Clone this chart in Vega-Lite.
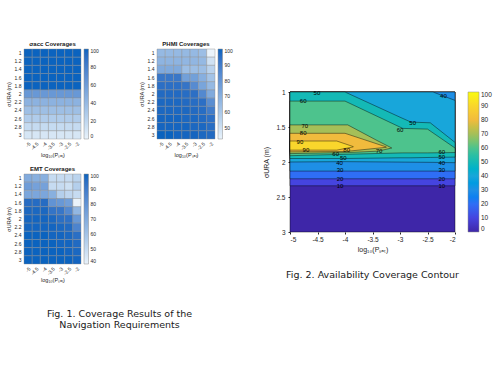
{
  "$schema": "https://vega.github.io/schema/vega-lite/v6.json",
  "background": "white",
  "padding": {"left": 6, "top": 40, "right": 2, "bottom": 2},
  "config": {
    "view": {"stroke": null},
    "font": "Liberation Sans",
    "locale": {"number": {"decimal": ".", "thousands": ",", "grouping": [3], "currency": ["$", ""], "minus": "-"}},
    "axis": {"labelColor": "#262626", "titleColor": "#262626", "domainColor": "#262626", "tickColor": "#262626", "grid": false, "titleFontWeight": "normal", "labelFont": "Liberation Sans", "titleFont": "Liberation Sans"},
    "legend": {"labelColor": "#262626", "labelFont": "Liberation Sans", "labelOverlap": false, "gradientStrokeColor": "#8c8c8c", "gradientStrokeWidth": 0.5},
    "title": {"color": "#1a1a1a"}
  },
  "resolve": {"scale": {"color": "independent"}, "legend": {"color": "independent"}},
  "spacing": 29,
  "hconcat": [
    {
      "resolve": {"scale": {"color": "independent"}, "legend": {"color": "independent"}},
      "spacing": 6,
      "title": {"text": ["Fig. 1. Coverage Results of the", "Navigation Requirements"], "orient": "bottom", "anchor": "middle", "font": "DejaVu Sans", "fontSize": 9.5, "fontWeight": "normal", "offset": 26, "lineHeight": 11},
      "vconcat": [
        {
          "resolve": {"scale": {"color": "independent"}, "legend": {"color": "independent"}},
          "spacing": 40,
          "hconcat": [
            {
              "width": 57, "height": 90,
              "title": {"text": "σacc Coverages", "fontSize": 6, "fontWeight": "bold", "offset": 2},
              "data": {"values": [
                {"p": -5, "s": 1, "c": 100}, {"p": -4.5, "s": 1, "c": 100}, {"p": -4, "s": 1, "c": 100}, {"p": -3.5, "s": 1, "c": 100}, {"p": -3, "s": 1, "c": 100}, {"p": -2.5, "s": 1, "c": 100}, {"p": -2, "s": 1, "c": 100},
                {"p": -5, "s": 1.2, "c": 100}, {"p": -4.5, "s": 1.2, "c": 100}, {"p": -4, "s": 1.2, "c": 100}, {"p": -3.5, "s": 1.2, "c": 100}, {"p": -3, "s": 1.2, "c": 100}, {"p": -2.5, "s": 1.2, "c": 100}, {"p": -2, "s": 1.2, "c": 100},
                {"p": -5, "s": 1.4, "c": 100}, {"p": -4.5, "s": 1.4, "c": 100}, {"p": -4, "s": 1.4, "c": 100}, {"p": -3.5, "s": 1.4, "c": 100}, {"p": -3, "s": 1.4, "c": 100}, {"p": -2.5, "s": 1.4, "c": 100}, {"p": -2, "s": 1.4, "c": 100},
                {"p": -5, "s": 1.6, "c": 100}, {"p": -4.5, "s": 1.6, "c": 100}, {"p": -4, "s": 1.6, "c": 100}, {"p": -3.5, "s": 1.6, "c": 100}, {"p": -3, "s": 1.6, "c": 100}, {"p": -2.5, "s": 1.6, "c": 100}, {"p": -2, "s": 1.6, "c": 100},
                {"p": -5, "s": 1.8, "c": 100}, {"p": -4.5, "s": 1.8, "c": 100}, {"p": -4, "s": 1.8, "c": 100}, {"p": -3.5, "s": 1.8, "c": 100}, {"p": -3, "s": 1.8, "c": 100}, {"p": -2.5, "s": 1.8, "c": 100}, {"p": -2, "s": 1.8, "c": 100},
                {"p": -5, "s": 2, "c": 63}, {"p": -4.5, "s": 2, "c": 63}, {"p": -4, "s": 2, "c": 63}, {"p": -3.5, "s": 2, "c": 63}, {"p": -3, "s": 2, "c": 63}, {"p": -2.5, "s": 2, "c": 63}, {"p": -2, "s": 2, "c": 63},
                {"p": -5, "s": 2.2, "c": 45}, {"p": -4.5, "s": 2.2, "c": 45}, {"p": -4, "s": 2.2, "c": 45}, {"p": -3.5, "s": 2.2, "c": 45}, {"p": -3, "s": 2.2, "c": 45}, {"p": -2.5, "s": 2.2, "c": 45}, {"p": -2, "s": 2.2, "c": 45},
                {"p": -5, "s": 2.4, "c": 36}, {"p": -4.5, "s": 2.4, "c": 36}, {"p": -4, "s": 2.4, "c": 36}, {"p": -3.5, "s": 2.4, "c": 36}, {"p": -3, "s": 2.4, "c": 36}, {"p": -2.5, "s": 2.4, "c": 36}, {"p": -2, "s": 2.4, "c": 36},
                {"p": -5, "s": 2.6, "c": 27}, {"p": -4.5, "s": 2.6, "c": 27}, {"p": -4, "s": 2.6, "c": 27}, {"p": -3.5, "s": 2.6, "c": 27}, {"p": -3, "s": 2.6, "c": 27}, {"p": -2.5, "s": 2.6, "c": 27}, {"p": -2, "s": 2.6, "c": 27},
                {"p": -5, "s": 2.8, "c": 17}, {"p": -4.5, "s": 2.8, "c": 17}, {"p": -4, "s": 2.8, "c": 17}, {"p": -3.5, "s": 2.8, "c": 17}, {"p": -3, "s": 2.8, "c": 17}, {"p": -2.5, "s": 2.8, "c": 17}, {"p": -2, "s": 2.8, "c": 17},
                {"p": -5, "s": 3, "c": 9}, {"p": -4.5, "s": 3, "c": 9}, {"p": -4, "s": 3, "c": 9}, {"p": -3.5, "s": 3, "c": 9}, {"p": -3, "s": 3, "c": 9}, {"p": -2.5, "s": 3, "c": 9}, {"p": -2, "s": 3, "c": 9}
              ]},
              "mark": {"type": "rect", "stroke": "#8a8a8a", "strokeWidth": 0.4},
              "encoding": {
                "x": {"field": "p", "type": "ordinal", "title": "log₁₀(Pₛₐₜ)", "axis": {"labelAngle": -45, "labelFontSize": 5, "titleFontSize": 5.5, "ticks": false, "domain": false, "labelPadding": 2, "titlePadding": 2}},
                "y": {"field": "s", "type": "ordinal", "title": "σURA (m)", "axis": {"labelFontSize": 5, "titleFontSize": 5.5, "ticks": false, "domain": false, "labelPadding": 3, "titlePadding": 3}},
                "color": {"field": "c", "type": "quantitative", "scale": {"domain": [0, 100], "range": ["#eaf3fb", "#0b63bf"]}, "legend": {"title": null, "gradientLength": 90, "gradientThickness": 4.5, "offset": 3, "labelFontSize": 5, "values": [0, 20, 40, 60, 80, 100]}}
              }
            },
            {
              "width": 58, "height": 90,
              "title": {"text": "PHMI Coverages", "fontSize": 6, "fontWeight": "bold", "offset": 2},
              "data": {"values": [
                {"p": -5, "s": 1, "v": 66}, {"p": -4.5, "s": 1, "v": 66}, {"p": -4, "s": 1, "v": 66}, {"p": -3.5, "s": 1, "v": 66}, {"p": -3, "s": 1, "v": 66}, {"p": -2.5, "s": 1, "v": 64}, {"p": -2, "s": 1, "v": 43},
                {"p": -5, "s": 1.2, "v": 68}, {"p": -4.5, "s": 1.2, "v": 68}, {"p": -4, "s": 1.2, "v": 68}, {"p": -3.5, "s": 1.2, "v": 67}, {"p": -3, "s": 1.2, "v": 67}, {"p": -2.5, "s": 1.2, "v": 66}, {"p": -2, "s": 1.2, "v": 50},
                {"p": -5, "s": 1.4, "v": 72}, {"p": -4.5, "s": 1.4, "v": 72}, {"p": -4, "s": 1.4, "v": 72}, {"p": -3.5, "s": 1.4, "v": 64}, {"p": -3, "s": 1.4, "v": 64}, {"p": -2.5, "s": 1.4, "v": 64}, {"p": -2, "s": 1.4, "v": 56},
                {"p": -5, "s": 1.6, "v": 92}, {"p": -4.5, "s": 1.6, "v": 92}, {"p": -4, "s": 1.6, "v": 92}, {"p": -3.5, "s": 1.6, "v": 76}, {"p": -3, "s": 1.6, "v": 76}, {"p": -2.5, "s": 1.6, "v": 70}, {"p": -2, "s": 1.6, "v": 62},
                {"p": -5, "s": 1.8, "v": 95}, {"p": -4.5, "s": 1.8, "v": 95}, {"p": -4, "s": 1.8, "v": 95}, {"p": -3.5, "s": 1.8, "v": 93}, {"p": -3, "s": 1.8, "v": 84}, {"p": -2.5, "s": 1.8, "v": 74}, {"p": -2, "s": 1.8, "v": 66},
                {"p": -5, "s": 2, "v": 97}, {"p": -4.5, "s": 2, "v": 97}, {"p": -4, "s": 2, "v": 97}, {"p": -3.5, "s": 2, "v": 96}, {"p": -3, "s": 2, "v": 95}, {"p": -2.5, "s": 2, "v": 85}, {"p": -2, "s": 2, "v": 72},
                {"p": -5, "s": 2.2, "v": 98}, {"p": -4.5, "s": 2.2, "v": 98}, {"p": -4, "s": 2.2, "v": 98}, {"p": -3.5, "s": 2.2, "v": 97}, {"p": -3, "s": 2.2, "v": 96}, {"p": -2.5, "s": 2.2, "v": 95}, {"p": -2, "s": 2.2, "v": 83},
                {"p": -5, "s": 2.4, "v": 98}, {"p": -4.5, "s": 2.4, "v": 98}, {"p": -4, "s": 2.4, "v": 98}, {"p": -3.5, "s": 2.4, "v": 98}, {"p": -3, "s": 2.4, "v": 97}, {"p": -2.5, "s": 2.4, "v": 96}, {"p": -2, "s": 2.4, "v": 90},
                {"p": -5, "s": 2.6, "v": 99}, {"p": -4.5, "s": 2.6, "v": 99}, {"p": -4, "s": 2.6, "v": 99}, {"p": -3.5, "s": 2.6, "v": 98}, {"p": -3, "s": 2.6, "v": 98}, {"p": -2.5, "s": 2.6, "v": 97}, {"p": -2, "s": 2.6, "v": 95},
                {"p": -5, "s": 2.8, "v": 99}, {"p": -4.5, "s": 2.8, "v": 99}, {"p": -4, "s": 2.8, "v": 99}, {"p": -3.5, "s": 2.8, "v": 99}, {"p": -3, "s": 2.8, "v": 98}, {"p": -2.5, "s": 2.8, "v": 98}, {"p": -2, "s": 2.8, "v": 96},
                {"p": -5, "s": 3, "v": 100}, {"p": -4.5, "s": 3, "v": 100}, {"p": -4, "s": 3, "v": 99}, {"p": -3.5, "s": 3, "v": 99}, {"p": -3, "s": 3, "v": 99}, {"p": -2.5, "s": 3, "v": 98}, {"p": -2, "s": 3, "v": 97}
              ]},
              "mark": {"type": "rect", "stroke": "#8a8a8a", "strokeWidth": 0.4},
              "encoding": {
                "x": {"field": "p", "type": "ordinal", "title": "log₁₀(Pₛₐₜ)", "axis": {"labelAngle": -45, "labelFontSize": 5, "titleFontSize": 5.5, "ticks": false, "domain": false, "labelPadding": 2, "titlePadding": 2}},
                "y": {"field": "s", "type": "ordinal", "title": "σURA (m)", "axis": {"labelFontSize": 5, "titleFontSize": 5.5, "ticks": false, "domain": false, "labelPadding": 3, "titlePadding": 3}},
                "color": {"field": "v", "type": "quantitative", "scale": {"domain": [43, 100], "range": ["#eaf3fb", "#0b63bf"]}, "legend": {"title": null, "gradientLength": 90, "gradientThickness": 4.5, "offset": 3, "labelFontSize": 5, "values": [50, 60, 70, 80, 90, 100]}}
              }
            }
          ]
        },
        {
          "width": 57, "height": 90,
          "title": {"text": "EMT Coverages", "fontSize": 6, "fontWeight": "bold", "offset": 2},
          "data": {"values": [
            {"p": -5, "s": 1, "e": 70}, {"p": -4.5, "s": 1, "e": 68}, {"p": -4, "s": 1, "e": 68}, {"p": -3.5, "s": 1, "e": 50}, {"p": -3, "s": 1, "e": 50}, {"p": -2.5, "s": 1, "e": 50}, {"p": -2, "s": 1, "e": 53},
            {"p": -5, "s": 1.2, "e": 76}, {"p": -4.5, "s": 1.2, "e": 74}, {"p": -4, "s": 1.2, "e": 74}, {"p": -3.5, "s": 1.2, "e": 50}, {"p": -3, "s": 1.2, "e": 50}, {"p": -2.5, "s": 1.2, "e": 48}, {"p": -2, "s": 1.2, "e": 55},
            {"p": -5, "s": 1.4, "e": 72}, {"p": -4.5, "s": 1.4, "e": 72}, {"p": -4, "s": 1.4, "e": 72}, {"p": -3.5, "s": 1.4, "e": 68}, {"p": -3, "s": 1.4, "e": 55}, {"p": -2.5, "s": 1.4, "e": 52}, {"p": -2, "s": 1.4, "e": 50},
            {"p": -5, "s": 1.6, "e": 96}, {"p": -4.5, "s": 1.6, "e": 96}, {"p": -4, "s": 1.6, "e": 96}, {"p": -3.5, "s": 1.6, "e": 80}, {"p": -3, "s": 1.6, "e": 78}, {"p": -2.5, "s": 1.6, "e": 75}, {"p": -2, "s": 1.6, "e": 40},
            {"p": -5, "s": 1.8, "e": 98}, {"p": -4.5, "s": 1.8, "e": 98}, {"p": -4, "s": 1.8, "e": 98}, {"p": -3.5, "s": 1.8, "e": 93}, {"p": -3, "s": 1.8, "e": 92}, {"p": -2.5, "s": 1.8, "e": 84}, {"p": -2, "s": 1.8, "e": 65},
            {"p": -5, "s": 2, "e": 99}, {"p": -4.5, "s": 2, "e": 99}, {"p": -4, "s": 2, "e": 99}, {"p": -3.5, "s": 2, "e": 98}, {"p": -3, "s": 2, "e": 95}, {"p": -2.5, "s": 2, "e": 94}, {"p": -2, "s": 2, "e": 78},
            {"p": -5, "s": 2.2, "e": 99}, {"p": -4.5, "s": 2.2, "e": 99}, {"p": -4, "s": 2.2, "e": 99}, {"p": -3.5, "s": 2.2, "e": 99}, {"p": -3, "s": 2.2, "e": 98}, {"p": -2.5, "s": 2.2, "e": 97}, {"p": -2, "s": 2.2, "e": 86},
            {"p": -5, "s": 2.4, "e": 100}, {"p": -4.5, "s": 2.4, "e": 100}, {"p": -4, "s": 2.4, "e": 100}, {"p": -3.5, "s": 2.4, "e": 99}, {"p": -3, "s": 2.4, "e": 99}, {"p": -2.5, "s": 2.4, "e": 98}, {"p": -2, "s": 2.4, "e": 95},
            {"p": -5, "s": 2.6, "e": 100}, {"p": -4.5, "s": 2.6, "e": 100}, {"p": -4, "s": 2.6, "e": 100}, {"p": -3.5, "s": 2.6, "e": 100}, {"p": -3, "s": 2.6, "e": 99}, {"p": -2.5, "s": 2.6, "e": 99}, {"p": -2, "s": 2.6, "e": 97},
            {"p": -5, "s": 2.8, "e": 100}, {"p": -4.5, "s": 2.8, "e": 100}, {"p": -4, "s": 2.8, "e": 100}, {"p": -3.5, "s": 2.8, "e": 100}, {"p": -3, "s": 2.8, "e": 100}, {"p": -2.5, "s": 2.8, "e": 99}, {"p": -2, "s": 2.8, "e": 98},
            {"p": -5, "s": 3, "e": 100}, {"p": -4.5, "s": 3, "e": 100}, {"p": -4, "s": 3, "e": 100}, {"p": -3.5, "s": 3, "e": 100}, {"p": -3, "s": 3, "e": 100}, {"p": -2.5, "s": 3, "e": 100}, {"p": -2, "s": 3, "e": 99}
          ]},
          "mark": {"type": "rect", "stroke": "#8a8a8a", "strokeWidth": 0.4},
          "encoding": {
            "x": {"field": "p", "type": "ordinal", "title": "log₁₀(Pₛₐₜ)", "axis": {"labelAngle": -45, "labelFontSize": 5, "titleFontSize": 5.5, "ticks": false, "domain": false, "labelPadding": 2, "titlePadding": 2}},
            "y": {"field": "s", "type": "ordinal", "title": "σURA (m)", "axis": {"labelFontSize": 5, "titleFontSize": 5.5, "ticks": false, "domain": false, "labelPadding": 3, "titlePadding": 3}},
            "color": {"field": "e", "type": "quantitative", "scale": {"domain": [40, 100], "range": ["#eaf3fb", "#0b63bf"]}, "legend": {"title": null, "gradientLength": 90, "gradientThickness": 4.5, "offset": 3, "labelFontSize": 5, "values": [40, 50, 60, 70, 80, 90, 100]}}
          }
        }
      ]
    },
    {
      "spacing": 0,
      "resolve": {"scale": {"color": "independent"}, "legend": {"color": "independent"}},
      "vconcat": [
        {
          "width": 165, "height": 40,
          "data": {"values": []},
          "mark": {"type": "text"},
          "encoding": {}
        },
        {
          "width": 165, "height": 140,
          "title": {"text": "Fig. 2. Availability Coverage Contour", "orient": "bottom", "anchor": "middle", "font": "DejaVu Sans", "fontSize": 9.5, "fontWeight": "normal", "offset": 17},
          "layer": [
            {
              "data": {"values": [
                {"lv": 0, "x": -5, "t": 1, "b": 3}, {"lv": 0, "x": -2, "t": 1, "b": 3},
                {"lv": 10, "x": -5, "t": 1, "b": 2.34}, {"lv": 10, "x": -2, "t": 1, "b": 2.34},
                {"lv": 20, "x": -5, "t": 1, "b": 2.24}, {"lv": 20, "x": -2, "t": 1, "b": 2.24},
                {"lv": 30, "x": -5, "t": 1, "b": 2.13}, {"lv": 30, "x": -2, "t": 1, "b": 2.13},
                {"lv": 40, "x": -5, "t": 1, "b": 2.0}, {"lv": 40, "x": -4, "t": 1, "b": 1.995}, {"lv": 40, "x": -2.4, "t": 1, "b": 2.005}, {"lv": 40, "x": -2, "t": 1.12, "b": 2.01},
                {"lv": 50, "x": -5, "t": 1.0, "b": 1.95}, {"lv": 50, "x": -4, "t": 1.0, "b": 1.95}, {"lv": 50, "x": -3, "t": 1.36, "b": 1.94}, {"lv": 50, "x": -2.8, "t": 1.43, "b": 1.94}, {"lv": 50, "x": -2.45, "t": 1.44, "b": 1.935}, {"lv": 50, "x": -2, "t": 1.72, "b": 1.93},
                {"lv": 60, "x": -5, "t": 1.13, "b": 1.91}, {"lv": 60, "x": -4, "t": 1.13, "b": 1.89}, {"lv": 60, "x": -2.95, "t": 1.52, "b": 1.87}, {"lv": 60, "x": -2.5, "t": 1.53, "b": 1.87}, {"lv": 60, "x": -2, "t": 1.8, "b": 1.865},
                {"lv": 70, "x": -5, "t": 1.47, "b": 1.88}, {"lv": 70, "x": -3.95, "t": 1.47, "b": 1.865}, {"lv": 70, "x": -3.4, "t": 1.7, "b": 1.845}, {"lv": 70, "x": -3.15, "t": 1.8, "b": 1.8},
                {"lv": 80, "x": -5, "t": 1.59, "b": 1.855}, {"lv": 80, "x": -4, "t": 1.59, "b": 1.85}, {"lv": 80, "x": -3.25, "t": 1.785, "b": 1.79},
                {"lv": 90, "x": -5, "t": 1.7, "b": 1.83}, {"lv": 90, "x": -4.15, "t": 1.7, "b": 1.83}, {"lv": 90, "x": -3.85, "t": 1.78, "b": 1.785}
              ]},
              "mark": {"type": "area", "stroke": "#000000", "strokeWidth": 0.5, "strokeOpacity": 0.85},
              "encoding": {
                "x": {"field": "x", "type": "quantitative", "scale": {"domain": [-5, -2], "nice": false, "zero": false}, "title": "log₁₀(Pₛₐₜ)", "axis": {"values": [-5, -4.5, -4, -3.5, -3, -2.5, -2], "format": "~g", "labelOverlap": false, "labelFontSize": 6.5, "titleFontSize": 7, "tickSize": 2, "domain": false, "labelPadding": 2, "titlePadding": 3}},
                "y": {"field": "t", "type": "quantitative", "scale": {"domain": [1, 3], "reverse": true, "nice": false, "zero": false}, "title": "σURA (m)", "axis": {"values": [1, 1.5, 2, 2.5, 3], "format": "~g", "labelOverlap": false, "labelFontSize": 6.5, "titleFontSize": 7, "tickSize": 2, "domain": false, "labelPadding": 3, "titlePadding": 6}},
                "y2": {"field": "b"},
                "detail": {"field": "lv"},
                "color": {"field": "lv", "type": "quantitative", "scale": {"domain": [0, 10, 20, 30, 40, 50, 60, 70, 80, 90, 100], "range": ["#3e26a8", "#4544df", "#2f6ef5", "#1e8fe6", "#18a6da", "#14b9b6", "#4dc38d", "#a5bf58", "#f1bb3d", "#f9d62c", "#f9fb0e"]}, "legend": {"title": null, "gradientLength": 140, "gradientThickness": 11, "offset": 12, "labelFontSize": 6.5, "values": [0, 10, 20, 30, 40, 50, 60, 70, 80, 90, 100]}}
              }
            },
            {
              "data": {"values": [
                {"x": -4.51, "y": 1.02, "t": "50"}, {"x": -4.76, "y": 1.13, "t": "60"}, {"x": -4.73, "y": 1.49, "t": "70"}, {"x": -4.76, "y": 1.58, "t": "80"},
                {"x": -4.82, "y": 1.71, "t": "90"}, {"x": -4.71, "y": 1.83, "t": "90"}, {"x": -3.97, "y": 1.825, "t": "80"}, {"x": -3.38, "y": 1.845, "t": "70"},
                {"x": -4.17, "y": 1.88, "t": "60"}, {"x": -4.03, "y": 1.945, "t": "50"}, {"x": -4.1, "y": 2.01, "t": "40"}, {"x": -4.09, "y": 2.12, "t": "30"}, {"x": -4.09, "y": 2.24, "t": "20"}, {"x": -4.09, "y": 2.34, "t": "10"},
                {"x": -2.24, "y": 1.86, "t": "60"}, {"x": -2.24, "y": 1.93, "t": "50"}, {"x": -2.24, "y": 2.01, "t": "40"}, {"x": -2.24, "y": 2.12, "t": "30"}, {"x": -2.24, "y": 2.24, "t": "20"}, {"x": -2.24, "y": 2.34, "t": "10"},
                {"x": -2.77, "y": 1.44, "t": "50"}, {"x": -3.0, "y": 1.54, "t": "60"}, {"x": -2.21, "y": 1.06, "t": "40"}
              ]},
              "mark": {"type": "text", "fontSize": 6, "color": "#000000", "font": "Liberation Sans"},
              "encoding": {
                "x": {"field": "x", "type": "quantitative", "title": "log₁₀(Pₛₐₜ)", "axis": {"values": [-5, -4.5, -4, -3.5, -3, -2.5, -2], "format": "~g", "labelOverlap": false, "labelFontSize": 6.5, "titleFontSize": 7, "tickSize": 2, "domain": false, "labelPadding": 2, "titlePadding": 3}},
                "y": {"field": "y", "type": "quantitative", "title": "σURA (m)", "axis": {"values": [1, 1.5, 2, 2.5, 3], "format": "~g", "labelOverlap": false, "labelFontSize": 6.5, "titleFontSize": 7, "tickSize": 2, "domain": false, "labelPadding": 3, "titlePadding": 6}},
                "text": {"field": "t"}
              }
            }
          ]
        }
      ]
    }
  ]
}
